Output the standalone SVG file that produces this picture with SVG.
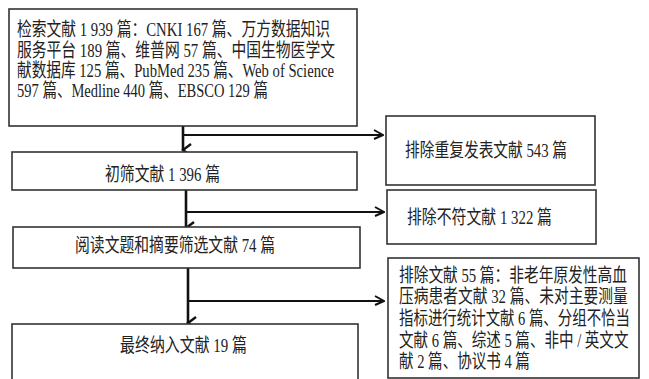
<svg xmlns="http://www.w3.org/2000/svg" width="649" height="379" viewBox="0 0 649 379">
<defs>
<style>
.box{fill:#fff;stroke:#333;stroke-width:1.6}
.t{font-family:"Liberation Serif","Noto Sans CJK SC",serif;font-size:19px;fill:#222}
.v{stroke:#111;stroke-width:2.6;fill:none}
.h{stroke:#111;stroke-width:2;fill:none}
</style>
<marker id="av" markerUnits="userSpaceOnUse" markerWidth="14" markerHeight="14" refX="7" refY="12" orient="auto-start-reverse" viewBox="0 0 14 14">
<path d="M1,4 L7,12 L13,4" fill="none" stroke="#111" stroke-width="2.4"/>
</marker>
<marker id="ah" markerUnits="userSpaceOnUse" markerWidth="12" markerHeight="12" refX="11" refY="6" orient="auto" viewBox="0 0 12 12">
<path d="M2,1 L11,6 L2,10" fill="none" stroke="#111" stroke-width="2"/>
</marker>
</defs>
<rect width="649" height="379" fill="#fff"/>
<g id="connectors">
<line class="v" x1="183" y1="126" x2="183" y2="150" marker-end="url(#av)"/>
<line class="h" x1="183" y1="135" x2="383" y2="135" marker-end="url(#ah)"/>
<line class="v" x1="186" y1="190" x2="186" y2="228" marker-end="url(#av)"/>
<line class="h" x1="186" y1="212" x2="384" y2="212" marker-end="url(#ah)"/>
<line class="v" x1="188" y1="268" x2="188" y2="323" marker-end="url(#av)"/>
<line class="h" x1="188" y1="301" x2="384" y2="301" marker-end="url(#ah)"/>
</g>
<g id="n1">
<rect class="box" x="9" y="9" width="348" height="117"/>
<text class="t" x="17" y="36" textLength="313" lengthAdjust="spacingAndGlyphs">检索文献 1 939 篇：CNKI 167 篇、万方数据知识</text>
<text class="t" x="17" y="57" textLength="318" lengthAdjust="spacingAndGlyphs">服务平台 189 篇、维普网 57 篇、中国生物医学文</text>
<text class="t" x="17" y="77" textLength="317" lengthAdjust="spacingAndGlyphs">献数据库 125 篇、PubMed 235 篇、Web of Science</text>
<text class="t" x="17" y="97" textLength="251" lengthAdjust="spacingAndGlyphs">597 篇、Medline 440 篇、EBSCO 129 篇</text>
</g>
<g id="n2">
<rect class="box" x="12" y="152" width="345" height="38"/>
<text class="t" x="105" y="181" textLength="115" lengthAdjust="spacingAndGlyphs">初筛文献 1 396 篇</text>
</g>
<g id="n3">
<rect class="box" x="13" y="227" width="347" height="41"/>
<text class="t" x="75" y="252" textLength="200" lengthAdjust="spacingAndGlyphs">阅读文题和摘要筛选文献 74 篇</text>
</g>
<g id="n4">
<rect class="box" x="12" y="324" width="346" height="70"/>
<text class="t" x="120" y="352" textLength="127" lengthAdjust="spacingAndGlyphs">最终纳入文献 19 篇</text>
</g>
<g id="nA">
<rect class="box" x="386" y="116" width="209" height="69"/>
<text class="t" x="405" y="157" textLength="162" lengthAdjust="spacingAndGlyphs">排除重复发表文献 543 篇</text>
</g>
<g id="nB">
<rect class="box" x="387" y="190" width="209" height="54"/>
<text class="t" x="407" y="224" textLength="145" lengthAdjust="spacingAndGlyphs">排除不符文献 1 322 篇</text>
</g>
<g id="nC">
<rect class="box" x="388" y="258" width="251" height="120"/>
<g transform="translate(399,0) scale(0.77,1)">
<text class="t" x="0" y="282" textLength="296" lengthAdjust="spacingAndGlyphs">排除文献 55 篇：非老年原发性高血</text>
<text class="t" x="0" y="303" textLength="297" lengthAdjust="spacingAndGlyphs">压病患者文献 32 篇、未对主要测量</text>
<text class="t" x="0" y="325" textLength="300" lengthAdjust="spacingAndGlyphs">指标进行统计文献 6 篇、分组不恰当</text>
<text class="t" x="0" y="347" textLength="298" lengthAdjust="spacingAndGlyphs">文献 6 篇、综述 5 篇、非中 / 英文文</text>
<text class="t" x="0" y="368" textLength="170" lengthAdjust="spacingAndGlyphs">献 2 篇、协议书 4 篇</text>
</g>
</g>
</svg>
